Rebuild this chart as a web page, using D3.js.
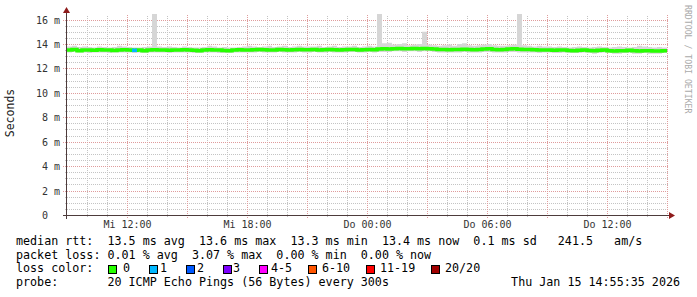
<!DOCTYPE html>
<html>
<head>
<meta charset="utf-8">
<script src="https://cdn.jsdelivr.net/npm/d3@7"></script>
<style>
body { margin: 0; background: #fff; }
text { font-family: "DejaVu Sans Mono", monospace; }
</style>
</head>
<body>
<svg id="chart" width="697" height="297"></svg>
<script>
// 15 minute samples, Wed 14 Jan 2026 09:00 .. Thu 15 Jan 15:00
var startTime = new Date(2026, 0, 14, 9, 0);
var stepMinutes = 15;

// median rtt in ms
var median = [
    13.5,13.55,13.45,13.5,13.5,13.48,13.52,13.5,13.5,13.47,13.5,13.52,13.5,13.48,13.5,13.45,13.5,13.52,13.5,13.5,13.48,13.5,13.5,13.52,
    13.5,13.48,13.45,13.5,13.52,13.5,13.5,13.47,13.45,13.5,13.52,13.5,13.5,13.53,13.55,13.52,13.5,13.5,13.55,13.52,13.5,13.53,13.55,13.52,
    13.52,13.55,13.5,13.52,13.55,13.53,13.5,13.52,13.55,13.55,13.5,13.52,13.55,13.53,13.58,13.6,13.58,13.6,13.62,13.6,13.6,13.62,13.6,13.62,
    13.6,13.58,13.55,13.55,13.52,13.55,13.55,13.57,13.55,13.52,13.55,13.58,13.6,13.55,13.52,13.55,13.58,13.6,13.57,13.55,13.55,13.52,13.5,13.5,
    13.5,13.48,13.5,13.5,13.47,13.45,13.48,13.5,13.47,13.45,13.48,13.5,13.45,13.42,13.45,13.45,13.48,13.45,13.42,13.45,13.45,13.42,13.42,13.45
];

// highest ping of the 20 (top of the smoke)
var smokeHi = [
    13.8,13.85,13.75,13.8,13.75,13.7,13.8,13.75,13.7,13.75,13.85,13.8,13.75,13.7,13.7,13.75,13.8,16.5,13.8,13.75,13.8,13.75,13.7,13.8,
    13.75,13.7,13.7,13.75,13.85,13.8,13.7,13.75,13.7,13.7,13.75,13.8,13.85,13.8,13.75,13.8,13.85,13.75,13.8,13.85,13.75,13.8,13.85,13.8,
    13.8,13.8,13.85,13.75,13.8,13.85,13.75,13.8,13.8,13.85,13.75,13.8,13.85,13.8,16.5,14.05,14.1,13.95,14.0,14.05,13.9,13.95,14.0,15.0,
    13.95,13.9,13.85,13.9,13.95,13.85,14.0,14.05,13.9,13.85,13.9,13.95,14.0,13.9,13.85,13.85,13.9,13.95,16.5,13.9,13.85,13.8,13.85,13.8,
    13.8,13.75,13.8,13.75,13.7,13.75,13.8,13.75,13.7,13.75,13.8,13.75,13.7,13.75,13.8,13.75,13.7,13.75,13.85,13.8,13.75,13.7,13.75,13.7
];

// lowest ping of the 20 (bottom of the smoke)
var smokeLo = [
    13.3,13.35,13.3,13.3,13.25,13.3,13.3,13.3,13.25,13.3,13.3,13.3,13.3,13.25,13.3,13.25,13.3,13.3,13.3,13.3,13.25,13.3,13.3,13.3,
    13.3,13.25,13.25,13.3,13.3,13.3,13.25,13.25,13.25,13.3,13.3,13.3,13.3,13.3,13.35,13.3,13.3,13.3,13.35,13.3,13.3,13.3,13.35,13.3,
    13.3,13.35,13.3,13.3,13.35,13.3,13.3,13.3,13.35,13.35,13.3,13.3,13.35,13.3,13.35,13.35,13.35,13.4,13.4,13.35,13.4,13.4,13.35,13.4,
    13.4,13.35,13.3,13.3,13.3,13.3,13.3,13.35,13.3,13.3,13.3,13.35,13.35,13.3,13.3,13.3,13.35,13.35,13.3,13.3,13.3,13.3,13.25,13.3,
    13.3,13.25,13.25,13.3,13.25,13.25,13.25,13.3,13.25,13.2,13.25,13.3,13.25,13.2,13.2,13.25,13.25,13.2,13.2,13.25,13.2,13.2,13.2,13.25
];

// lost pings per sample (of 20)
var lossPings = [
    0,0,0,0,0,0,0,0,0,0,0,0,0,1,0,0,0,0,0,0,0,0,0,0,
    0,0,0,0,0,0,0,0,0,0,0,0,0,0,0,0,0,0,0,0,0,0,0,0,
    0,0,0,0,0,0,0,0,0,0,0,0,0,0,0,0,0,0,0,0,0,0,0,0,
    0,0,0,0,0,0,0,0,0,0,0,0,0,0,0,0,0,0,0,0,0,0,0,0,
    0,0,0,0,0,0,0,0,0,0,0,0,0,0,0,0,0,0,0,0,0,0,0,0
];

var lossLabels = ["0", "1", "2", "3", "4-5", "6-10", "11-19", "20/20"];
var lossColors = ["#26ff00", "#00b8ff", "#0059ff", "#7e00ff", "#ff00ff", "#ff5500", "#ff0000", "#a10000"];

var yTicks = [0, 2, 4, 6, 8, 10, 12, 14, 16];
var dayNames = ["So", "Mo", "Di", "Mi", "Do", "Fr", "Sa"];

var legendLines = [
    "median rtt:  13.5 ms avg  13.6 ms max  13.3 ms min  13.4 ms now  0.1 ms sd   241.5   am/s",
    "packet loss: 0.01 % avg  3.07 % max  0.00 % min  0.00 % now",
    "loss color:",
    "probe:       20 ICMP Echo Pings (56 Bytes) every 300s"
];
var stampText = "Thu Jan 15 14:55:35 2026";

function drawChart() {
    var svg = d3.select("#chart");
    var pLeft = 67, pRight = 667, pTop = 15, pBottom = 215;

    var endTime = d3.timeMinute.offset(startTime, stepMinutes * median.length);
    var xScale = d3.scaleTime().domain([startTime, endTime]).range([pLeft, pRight]);
    var yScale = d3.scaleLinear().domain([0, 16.37]).range([pBottom, pTop]);

    var records = median.map(function(d, i) {
        return {t: d3.timeMinute.offset(startTime, i * stepMinutes), med: d,
                hi: smokeHi[i], lo: smokeLo[i], loss: lossPings[i]};
    });
    var lastRec = records[records.length - 1];
    var drawRecords = records.concat([{t: endTime, med: lastRec.med, hi: lastRec.hi, lo: lastRec.lo, loss: lastRec.loss}]);

    function lossColor(n) {
        if (n <= 0) return lossColors[0];
        if (n <= 3) return lossColors[n];
        if (n <= 5) return lossColors[4];
        if (n <= 10) return lossColors[5];
        if (n <= 19) return lossColors[6];
        return lossColors[7];
    }

    // grid
    var grid = svg.append("g").attr("shape-rendering", "crispEdges");
    var minorY = d3.range(0.5, 16.01, 0.5).filter(function(v) { return v % 2 != 0; });
    grid.selectAll("line.hmin").data(minorY).enter().append("line")
        .attr("x1", pLeft - 2).attr("x2", pRight + 1)
        .attr("y1", function(d) { return Math.round(yScale(d)) + 0.5; })
        .attr("y2", function(d) { return Math.round(yScale(d)) + 0.5; })
        .attr("stroke", "#c4c4c4").attr("stroke-dasharray", "1,1");
    var hours = d3.timeHour.range(startTime, d3.timeMinute.offset(endTime, 1));
    grid.selectAll("line.vmin").data(hours.filter(function(h) { return h.getHours() % 3 != 0; })).enter().append("line")
        .attr("x1", function(d) { return Math.round(xScale(d)) + 0.5; })
        .attr("x2", function(d) { return Math.round(xScale(d)) + 0.5; })
        .attr("y1", pBottom + 2).attr("y2", pTop)
        .attr("stroke", "#c4c4c4").attr("stroke-dasharray", "1,1");
    grid.selectAll("line.hmaj").data(yTicks.slice(1)).enter().append("line")
        .attr("x1", pLeft - 4).attr("x2", pRight + 1)
        .attr("y1", function(d) { return Math.round(yScale(d)) + 0.5; })
        .attr("y2", function(d) { return Math.round(yScale(d)) + 0.5; })
        .attr("stroke", "#df9c9c").attr("stroke-dasharray", "1,1");
    grid.selectAll("line.vmaj").data(hours.filter(function(h) { return h.getHours() % 3 == 0 && +h != +startTime; })).enter().append("line")
        .attr("x1", function(d) { return Math.round(xScale(d)) + 0.5; })
        .attr("x2", function(d) { return Math.round(xScale(d)) + 0.5; })
        .attr("y1", pBottom + 3).attr("y2", pTop)
        .attr("stroke", "#df9c9c").attr("stroke-dasharray", "1,1");

    // smoke + median
    svg.append("clipPath").attr("id", "plotclip").append("rect")
       .attr("x", pLeft).attr("y", pTop - 1).attr("width", pRight - pLeft + 1).attr("height", pBottom - pTop + 1);
    var plot = svg.append("g").attr("clip-path", "url(#plotclip)");

    plot.append("path")
        .datum(drawRecords)
        .attr("fill", "#d6d6d6")
        .attr("d", d3.area().curve(d3.curveStepAfter)
            .x(function(d) { return xScale(d.t); })
            .y0(function(d) { return yScale(d.lo); })
            .y1(function(d) { return yScale(d.hi); }));

    plot.append("path")
        .datum(drawRecords)
        .attr("fill", "none")
        .attr("stroke", lossColors[0])
        .attr("stroke-width", 3.5)
        .attr("d", d3.line().curve(d3.curveStepAfter)
            .x(function(d) { return xScale(d.t); })
            .y(function(d) { return yScale(d.med); }));

    plot.selectAll("line.loss")
        .data(records.filter(function(d) { return d.loss > 0; }))
        .enter().append("line")
        .attr("x1", function(d) { return xScale(d.t); })
        .attr("x2", function(d) { return xScale(d3.timeMinute.offset(d.t, stepMinutes)); })
        .attr("y1", function(d) { return yScale(d.med); })
        .attr("y2", function(d) { return yScale(d.med); })
        .attr("stroke", function(d) { return lossColor(d.loss); })
        .attr("stroke-width", 3.5);

    // axes
    var yAxis = d3.axisLeft(yScale).tickValues(yTicks).tickSize(0).tickPadding(0)
        .tickFormat(function(d) { return d == 0 ? "0  " : d + " m"; });
    var gy = svg.append("g").attr("transform", "translate(" + (pLeft - 7) + ",0)").call(yAxis);
    gy.select(".domain").remove();
    gy.selectAll("text").attr("font-size", "10px").attr("fill", "#333")
      .attr("font-family", "DejaVu Sans Mono").attr("dy", "0.35em")
      .attr("xml:space", "preserve").style("white-space", "pre");

    var xAxis = d3.axisBottom(xScale).tickValues(hours.filter(function(h) { return h.getHours() % 6 == 0; }))
        .tickSize(0).tickPadding(0)
        .tickFormat(function(d) { return dayNames[d.getDay()] + " " + d3.timeFormat("%H:%M")(d); });
    var gx = svg.append("g").attr("transform", "translate(0," + (pBottom + 12.5) + ")").call(xAxis);
    gx.select(".domain").remove();
    gx.selectAll("text").attr("font-size", "10px").attr("fill", "#333")
      .attr("font-family", "DejaVu Sans Mono").attr("dy", 0);

    var axisCol = "#4d3b3b", arrowCol = "#8e1b1b";
    svg.append("line").attr("x1", pLeft - 4).attr("x2", pRight + 4)
       .attr("y1", pBottom + 0.5).attr("y2", pBottom + 0.5).attr("stroke", axisCol).attr("shape-rendering", "crispEdges");
    svg.append("line").attr("x1", pLeft - 0.5).attr("x2", pLeft - 0.5)
       .attr("y1", pBottom + 4).attr("y2", pTop - 3).attr("stroke", axisCol).attr("shape-rendering", "crispEdges");
    svg.append("path").attr("fill", arrowCol)
       .attr("d", "M" + (pRight + 2) + "," + (pBottom - 3) + "L" + (pRight + 8) + "," + (pBottom + 0.5) + "L" + (pRight + 2) + "," + (pBottom + 4) + "Z");
    svg.append("path").attr("fill", arrowCol)
       .attr("d", "M" + (pLeft - 4) + "," + (pTop - 2) + "L" + (pLeft - 0.5) + "," + (pTop - 8) + "L" + (pLeft + 3) + "," + (pTop - 2) + "Z");

    // titles
    svg.append("text").attr("transform", "translate(14,113) rotate(-90)")
       .attr("text-anchor", "middle").attr("font-size", "11.5px").attr("fill", "#222").text("Seconds");
    svg.append("text").attr("transform", "translate(685,5) rotate(90)")
       .attr("font-size", "8.2px").attr("fill", "#aaa").text("RRDTOOL / TOBI OETIKER");

    // legend
    var lineY = [245, 258.5, 272, 286];
    legendLines.forEach(function(s, i) {
        svg.append("text").attr("x", 16).attr("y", lineY[i]).attr("font-size", "11.7px")
           .attr("fill", "#000").attr("xml:space", "preserve").style("white-space", "pre").text(s);
    });
    var boxX = [108, 149, 186, 223, 259, 308, 366, 431];
    var labelX = [123, 160, 197, 233, 271, 322, 380, 445];
    lossLabels.forEach(function(lab, i) {
        svg.append("rect").attr("x", boxX[i] + 0.5).attr("y", 265.5).attr("width", 8).attr("height", 8)
           .attr("fill", lossColors[i]).attr("stroke", "#000").attr("stroke-width", 1);
        svg.append("text").attr("x", labelX[i]).attr("y", lineY[2]).attr("font-size", "11.7px")
           .attr("fill", "#000").text(lab);
    });
    svg.append("text").attr("x", 680).attr("y", lineY[3]).attr("text-anchor", "end")
       .attr("font-size", "11.7px").attr("fill", "#000").text(stampText);
}

drawChart();
</script>
</body>
</html>
